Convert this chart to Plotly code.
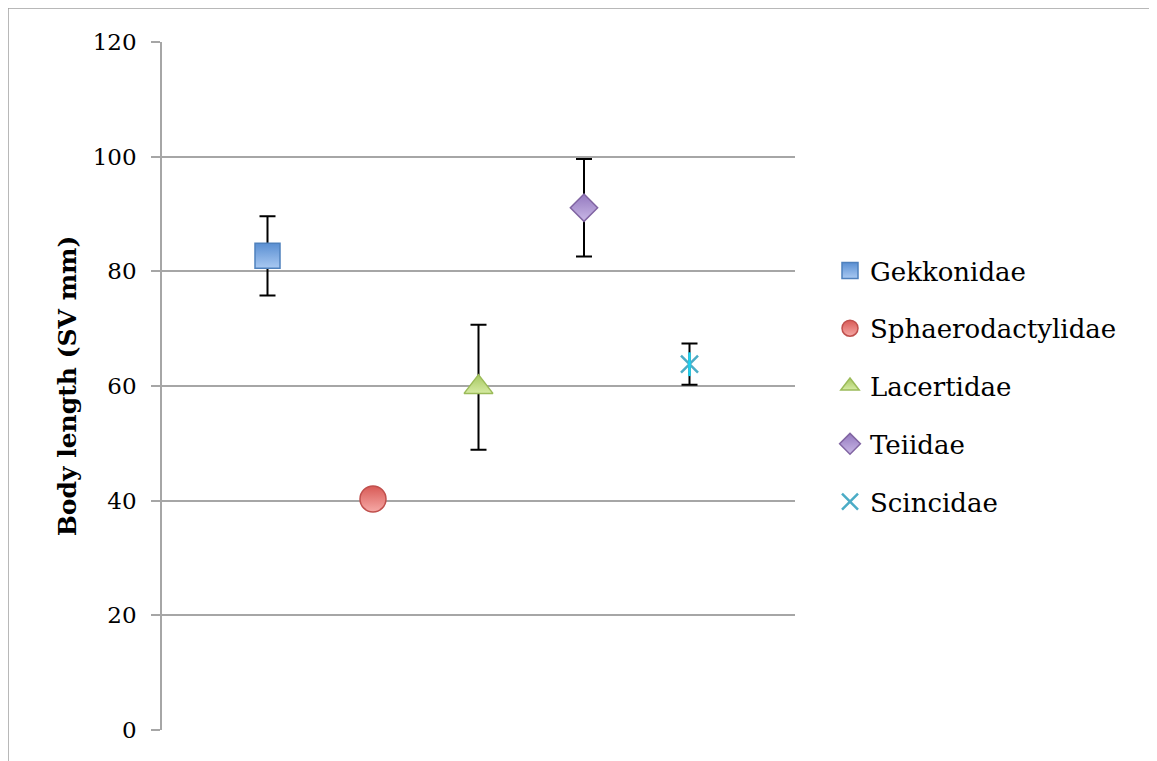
import plotly.graph_objects as go

families = ["Gekkonidae", "Sphaerodactylidae", "Lacertidae", "Teiidae", "Scincidae"]
x_pos = [1, 2, 3, 4, 5]
means = [82.7, 40.3, 59.8, 91.1, 63.8]
errors = [6.9, None, 10.9, 8.5, 3.6]
y_ticks = [0, 20, 40, 60, 80, 100, 120]

fills = ["#5a8fd2", "#d85a56", "#a6c760", "#9479bf", "#4bacc6"]
lights = ["#a9c9f2", "#f6a9a6", "#d6eba3", "#c9b8e6", "#4bacc6"]
darks = ["#4f81bd", "#c0504d", "#9bbb59", "#8064a2", "#4bacc6"]
symbols = ["square", "circle", "triangle-up", "diamond", "x-thin-open"]
sizes = [25, 26, 25, 21, 17]

FONT = "DejaVu Serif"

fig = go.Figure()
for i, name in enumerate(families):
    err = dict(visible=False)
    if errors[i] is not None:
        err = dict(type="data", array=[errors[i]], visible=True,
                   color="black", thickness=2, width=8)
    if symbols[i] == "x-thin-open":
        marker = dict(symbol=symbols[i], size=sizes[i], color=darks[i],
                      line=dict(color=darks[i], width=2.5))
    else:
        marker = dict(symbol=symbols[i], size=sizes[i], color=fills[i],
                      gradient=dict(type="vertical", color=lights[i]),
                      line=dict(color=darks[i], width=1.5))
    fig.add_trace(go.Scatter(
        x=[x_pos[i]], y=[means[i]], mode="markers", name=name,
        legendgroup=name, error_y=err, marker=marker,
    ))
    if symbols[i] == "x-thin-open":
        fig.add_trace(go.Scatter(
            x=[x_pos[i]], y=[means[i]], mode="markers", name=name,
            legendgroup=name, showlegend=False, hoverinfo="skip",
            marker=dict(symbol="line-ns-open", size=sizes[i],
                        line=dict(color=darks[i], width=2.5)),
        ))

# page body has an 8px margin; figure coordinates = screen - 8
OFF = 8
W, H = 1157 - OFF, 761 - OFF
L = 162 - OFF
T = 42 - OFF
R = W - (795 - OFF)
B = H - (730 - OFF)
pw = W - L - R
ph = H - T - B

def px_x(sx):
    return (sx - OFF - L) / pw

def px_y(sy):
    return ((730 - OFF) - (sy - OFF)) / ph

border = dict(color="#a0a0a0", width=1.5)

fig.update_layout(
    width=W, height=H,
    margin=dict(l=L, r=R, t=T, b=B),
    paper_bgcolor="white", plot_bgcolor="white",
    font=dict(family=FONT, size=22, color="black"),
    showlegend=True,
    legend=dict(
        x=px_x(830), xanchor="left",
        y=px_y(247), yanchor="top",
        font=dict(family=FONT, size=26, color="black"),
        traceorder="grouped", tracegroupgap=21,
        bgcolor="rgba(0,0,0,0)", itemclick=False,
    ),
    xaxis=dict(range=[0, 6], showgrid=False, zeroline=False,
               showticklabels=False, ticks="", showline=False),
    yaxis=dict(range=[0, 120], tickvals=y_ticks, showgrid=True,
               gridcolor="#a6a6a6", gridwidth=1.5, zeroline=False,
               showline=True, linecolor="#a6a6a6", linewidth=1.5,
               ticks="outside", ticklen=9, tickcolor="#a6a6a6", tickwidth=1.5,
               ticklabelstandoff=10,
               tickfont=dict(family=FONT, size=23, color="black"),
               title=dict(text="<b>Body length (SV mm)</b>", standoff=9,
                          font=dict(family=FONT, size=25, color="black"))),
    shapes=[
        dict(type="line", xref="paper", yref="paper",
             x0=px_x(8), x1=px_x(8), y0=px_y(761 + 40), y1=px_y(8),
             line=border, layer="below"),
        dict(type="line", xref="paper", yref="paper",
             x0=px_x(8), x1=px_x(1157 + 40), y0=px_y(8), y1=px_y(8),
             line=border, layer="below"),
    ],
)

fig.write_html("out.html")
